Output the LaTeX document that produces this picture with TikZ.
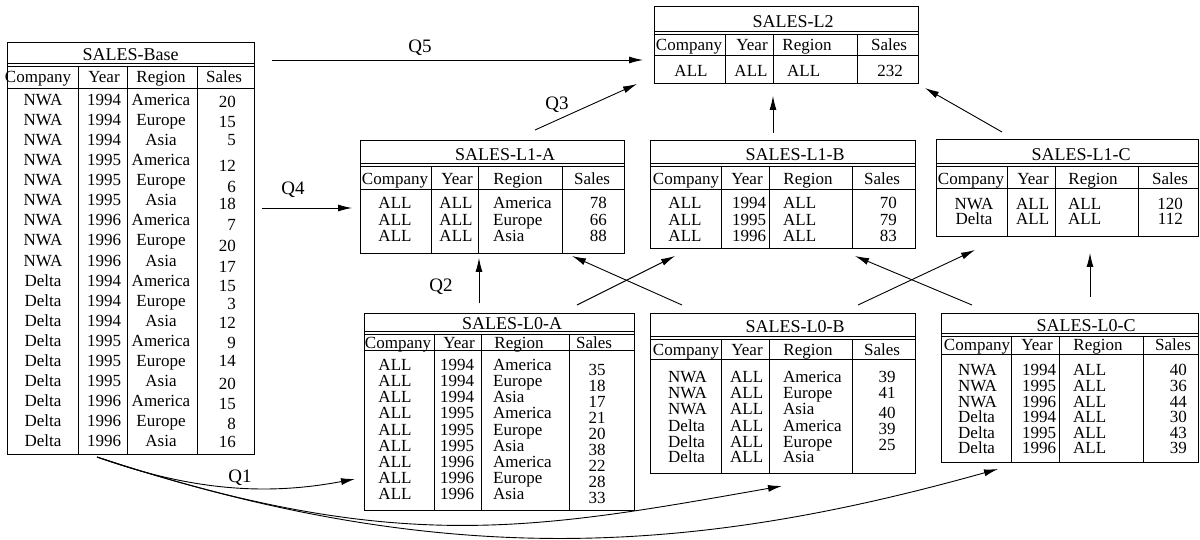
\documentclass[tikz,border=0pt]{standalone}
\usepackage{fontspec}
\setmainfont{Liberation Serif}
\usetikzlibrary{arrows.meta,fit}
\newcommand\bodyfont{\fontsize{17}{17}\selectfont}
\newcommand\titlefont{\fontsize{18}{18}\selectfont}
\newcommand\qfont{\fontsize{19}{19}\selectfont}
\newcommand\tlines[9]{%
  \draw[rule] (#1,#3) -- (#2,#3) (#1,#4) -- (#2,#4) (#1,#5) -- (#2,#5)
    (#7,#4) -- (#7,#6) (#8,#4) -- (#8,#6) (#9,#4) -- (#9,#6);}
\begin{document}
\begin{tikzpicture}[x=1pt,y=-1pt,
  cell/.style={inner sep=0pt, font=\bodyfont, text height=11.3pt, text depth=0pt},
  cellL/.style={cell, anchor=west},
  cellR/.style={cell, anchor=east},
  ttl/.style={inner sep=0pt, font=\titlefont, text height=12pt, text depth=0pt},
  tframe/.style={draw, line width=0.9pt, inner sep=0pt},
  rule/.style={line width=0.9pt},
  conn/.style={line width=0.9pt, -{Latex[length=14pt,width=7pt]}},
  qlab/.style={inner sep=0pt, font=\qfont, text height=13pt, text depth=0pt}]
\useasboundingbox (0,0) rectangle (1200,540);

% ---------------- SALES-Base ----------------
\node[tframe, fit={(7,42)(254,454)}] (base) {};
\tlines{7}{254}{63}{66}{88}{454}{78}{127}{197}
\node[ttl] (bt) at (130.5,55) {SALES-Base};
\foreach \v/\xx [count=\i] in {Company/38,Year/104,Region/161,Sales/224}
  \node[cell] (bh\i) at (\xx,77) {\v};
\foreach \v [count=\i] in {NWA,NWA,NWA,NWA,NWA,NWA,NWA,NWA,NWA,Delta,Delta,Delta,Delta,Delta,Delta,Delta,Delta,Delta}
  \node[cell] (ba\i) at (43,{100+20.05*(\i-1)}) {\v};
\foreach \v [count=\i] in {1994,1994,1994,1995,1995,1995,1996,1996,1996,1994,1994,1994,1995,1995,1995,1996,1996,1996}
  \node[cell] (bb\i) at (104,{100+20.05*(\i-1)}) {\v};
\foreach \v [count=\i] in {America,Europe,Asia,America,Europe,Asia,America,Europe,Asia,America,Europe,Asia,America,Europe,Asia,America,Europe,Asia}
  \node[cell] (bc\i) at (161,{100+20.05*(\i-1)}) {\v};
\foreach \v/\yy [count=\i] in {20/101.7,15/121.7,5/140,12/166,6/186.7,18/204,7/225,20/246,17/266.7,15/286,3/304,12/323,9/343,14/361,20/384,15/404,8/424,16/442}
  \node[cellR] (bd\i) at (236,\yy) {\v};

% ---------------- SALES-L2 ----------------
\node[tframe, fit={(654,6)(918,83)}] (ltwo) {};
\tlines{654}{918}{31}{34}{55}{83}{725}{773}{857}
\node[ttl] (l2t) at (793,22) {SALES-L2};
\foreach \v/\xx [count=\i] in {Company/689,Year/752,Region/807,Sales/889}
  \node[cell] (l2h\i) at (\xx,45) {\v};
\node[cell] (l2a) at (691,71) {ALL};
\node[cell] (l2b) at (751,71) {ALL};
\node[cellL] (l2c) at (787,71) {ALL};
\node[cell] (l2d) at (890,71) {232};

% ---------------- SALES-L1-A ----------------
\node[tframe, fit={(360,140)(624,253)}] (loneA) {};
\tlines{360}{624}{163}{166}{189}{253}{431}{478}{562}
\node[ttl] (l1at) at (505,155) {SALES-L1-A};
\foreach \v/\xx [count=\i] in {Company/395,Year/457,Region/518,Sales/592}
  \node[cell] (l1ah\i) at (\xx,179) {\v};
\foreach \r/\s/\yy [count=\i] in {America/78/203,Europe/66/219.5,Asia/88/236}{
  \node[cell] (l1aa\i) at (395,\yy) {ALL};
  \node[cell] (l1ab\i) at (456,\yy) {ALL};
  \node[cellL] (l1ac\i) at (493,\yy) {\r};
  \node[cellR] (l1ad\i) at (607,\yy) {\s};}

% ---------------- SALES-L1-B ----------------
\node[tframe, fit={(650,140)(915,248)}] (loneB) {};
\tlines{650}{915}{163}{166}{189}{248}{721}{769}{852}
\node[ttl] (l1bt) at (795,155) {SALES-L1-B};
\foreach \v/\xx [count=\i] in {Company/686,Year/747,Region/808,Sales/882}
  \node[cell] (l1bh\i) at (\xx,179) {\v};
\foreach \yr/\s/\yy [count=\i] in {1994/70/203,1995/79/219.5,1996/83/236}{
  \node[cell] (l1ba\i) at (685,\yy) {ALL};
  \node[cellL] (l1bb\i) at (732,\yy) {\yr};
  \node[cellL] (l1bc\i) at (783,\yy) {ALL};
  \node[cellR] (l1bd\i) at (897,\yy) {\s};}

% ---------------- SALES-L1-C ----------------
\node[tframe, fit={(936,139)(1198,236)}] (loneC) {};
\tlines{936}{1198}{163}{166}{188}{236}{1007}{1055}{1138}
\node[ttl] (l1ct) at (1081,155) {SALES-L1-C};
\foreach \v/\xx [count=\i] in {Company/971,Year/1033,Region/1093,Sales/1170}
  \node[cell] (l1ch\i) at (\xx,179) {\v};
\foreach \c/\s/\yy [count=\i] in {NWA/120/204,Delta/112/219}{
  \node[cell] (l1ca\i) at (974,\yy) {\c};
  \node[cellL] (l1cb\i) at (1016,\yy) {ALL};
  \node[cellL] (l1cc\i) at (1068,\yy) {ALL};
  \node[cellR] (l1cd\i) at (1183,\yy) {\s};}

% ---------------- SALES-L0-A ----------------
\node[tframe, fit={(364,313)(634,510)}] (lzeroA) {};
\tlines{364}{634}{331}{334}{350}{510}{434}{481}{569}
\node[ttl] (l0at) at (512,323) {SALES-L0-A};
\foreach \v/\xx [count=\i] in {Company/398,Year/459,Region/519,Sales/594}
  \node[cell] (l0ah\i) at (\xx,343) {\v};
\foreach \yr/\r/\s [count=\i] in {1994/America/35,1994/Europe/18,1994/Asia/17,1995/America/21,1995/Europe/20,1995/Asia/38,1996/America/22,1996/Europe/28,1996/Asia/33}{
  \node[cell] (l0aa\i) at (395,{365+16.1*(\i-1)}) {ALL};
  \node[cellL] (l0ab\i) at (440,{365+16.1*(\i-1)}) {\yr};
  \node[cellL] (l0ac\i) at (493,{365+16.1*(\i-1)}) {\r};
  \node[cell] (l0ad\i) at (597,{370+16*(\i-1)}) {\s};}

% ---------------- SALES-L0-B ----------------
\node[tframe, fit={(650,313)(915,473)}] (lzeroB) {};
\tlines{650}{915}{336}{339}{359}{473}{721}{769}{852}
\node[ttl] (l0bt) at (795,326) {SALES-L0-B};
\foreach \v/\xx [count=\i] in {Company/686,Year/747,Region/808,Sales/882}
  \node[cell] (l0bh\i) at (\xx,350) {\v};
\foreach \c/\r/\yy [count=\i] in {NWA/America/377,NWA/Europe/393,NWA/Asia/409,Delta/America/426,Delta/Europe/442,Delta/Asia/457}{
  \node[cellL] (l0ba\i) at (668,\yy) {\c};
  \node[cellL] (l0bb\i) at (730,\yy) {ALL};
  \node[cellL] (l0bc\i) at (783,\yy) {\r};}
\foreach \s/\yy [count=\i] in {39/377,41/393,40/413,39/429,25/445}
  \node[cell] (l0bd\i) at (887,\yy) {\s};

% ---------------- SALES-L0-C ----------------
\node[tframe, fit={(941,313)(1198,462)}] (lzeroC) {};
\tlines{941}{1198}{333}{336}{354}{462}{1011}{1059}{1143}
\node[ttl] (l0ct) at (1086,325) {SALES-L0-C};
\foreach \v/\xx [count=\i] in {Company/977,Year/1037,Region/1098,Sales/1173}
  \node[cell] (l0ch\i) at (\xx,345) {\v};
\foreach \c/\yr/\s/\yy [count=\i] in {NWA/1994/40/370,NWA/1995/36/386,NWA/1996/44/401.5,Delta/1994/30/417,Delta/1995/43/433,Delta/1996/39/448}{
  \node[cellL] (l0ca\i) at (958,\yy) {\c};
  \node[cellL] (l0cb\i) at (1022,\yy) {\yr};
  \node[cellL] (l0cc\i) at (1073,\yy) {ALL};
  \node[cellR] (l0cd\i) at (1187,\yy) {\s};}

% ---------------- connector end points ----------------
\coordinate (q5s) at (272,60);   \coordinate (q5e) at (643,60);
\coordinate (q4s) at (262,208);  \coordinate (q4e) at (352,208);
\coordinate (q3s) at (535,130);  \coordinate (q3e) at (637,84);
\coordinate (q2s) at (479,303);  \coordinate (q2e) at (479,258);
\coordinate (bl2s) at (773,133); \coordinate (bl2e) at (773,96);
\coordinate (cl2s) at (1002,132);\coordinate (cl2e) at (925,88);
\coordinate (a0bs) at (577,305); \coordinate (a0be) at (675,256);
\coordinate (b0as) at (682,305); \coordinate (b0ae) at (572,256);
\coordinate (b0cs) at (858,305); \coordinate (b0ce) at (975,250);
\coordinate (c0bs) at (972,305); \coordinate (c0be) at (855,256);
\coordinate (c0cs) at (1090,297);\coordinate (c0ce) at (1090,253);
\coordinate (q1s) at (97,457);
\coordinate (q1e) at (355,479);
\coordinate (q1b) at (782,486);
\coordinate (q1c) at (998,469);

\draw[conn] (q5s) -- (q5e);
\draw[conn] (q4s) -- (q4e);
\draw[conn] (q3s) -- (q3e);
\draw[conn] (q2s) -- (q2e);
\draw[conn] (bl2s) -- (bl2e);
\draw[conn] (cl2s) -- (cl2e);
\draw[conn] (a0bs) -- (a0be);
\draw[conn] (b0as) -- (b0ae);
\draw[conn] (b0cs) -- (b0ce);
\draw[conn] (c0bs) -- (c0be);
\draw[conn] (c0cs) -- (c0ce);
\draw[conn] (q1s) .. controls (200,494) and (275,494) .. (q1e);
\draw[conn] (q1s) .. controls (397,556) and (532,530) .. (q1b);
\draw[conn] (q1s) .. controls (447,573) and (698,553) .. (q1c);

\node[qlab] (lq5) at (420,46) {Q5};
\node[qlab] (lq4) at (293,188) {Q4};
\node[qlab] (lq3) at (557,103) {Q3};
\node[qlab] (lq2) at (441,285) {Q2};
\node[qlab] (lq1) at (240,476) {Q1};
\end{tikzpicture}
\end{document}
